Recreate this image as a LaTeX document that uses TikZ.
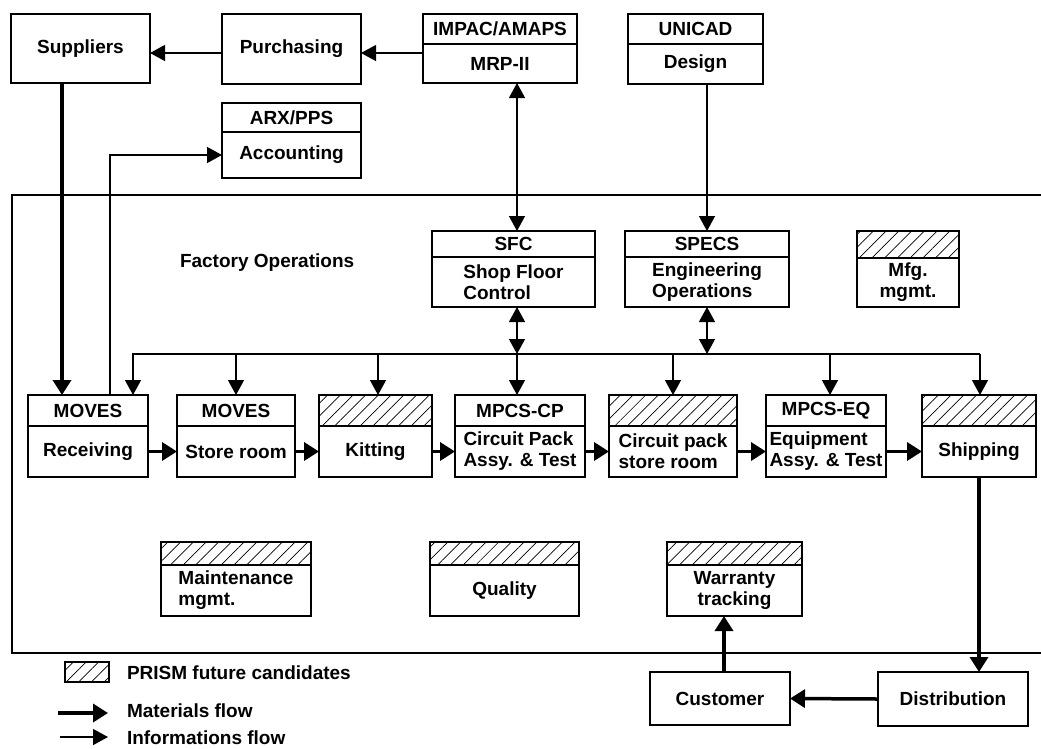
\documentclass[tikz,border=0pt]{standalone}
\usepackage{fontspec}
\setmainfont{Liberation Sans}
\usetikzlibrary{arrows.meta,patterns.meta}

\tikzset{
  every node/.style={font=\fontsize{19}{21}\selectfont\bfseries, inner sep=0pt, outer sep=0pt},
  sz/.style 2 args={minimum width=#1pt, minimum height=#2pt},
  bx/.style={draw, line width=1.8pt},
  hatch/.style={bx, pattern={Lines[angle=45,distance=9pt,line width=0.7pt]}},
  tipA/.tip={Triangle[length=15pt,width=16pt]},
  info/.style={line width=1.3pt, -tipA},
  infob/.style={line width=1.3pt, tipA-tipA},
  matl/.style={line width=3.5pt, -{Triangle[length=15pt,width=18pt]}},
  frame/.style={line width=1.6pt},
}

\begin{document}
\begin{tikzpicture}[x=1pt,y=-1pt]
\useasboundingbox (0,0) rectangle (1041,748);

% factory operations frame (open to the right)
\draw[frame] (1041,195) -- (12,195) -- (12,653) -- (1041,653);
\node[anchor=west] (fo) at (180,263) {Factory Operations};

% top row
\node[bx, sz={139}{69}] (sup) at (80.5,48.5) {Suppliers};
\node[bx, sz={139}{70}] (pur) at (291.5,49) {Purchasing};
\node[bx, sz={154}{30}] (mrph) at (500,29) {IMPAC/AMAPS};
\node[bx, sz={154}{39}] (mrpb) at (500,63.5) {MRP-II};
\node[bx, sz={135}{30}] (cadh) at (695.5,29) {UNICAD};
\node[bx, sz={135}{40}] (cadb) at (695.5,64) {Design};
\node[bx, sz={139}{29}] (acch) at (291.5,117.5) {ARX/PPS};
\node[bx, sz={139}{46}] (accb) at (291.5,155) {Accounting};

% control systems
\node[bx, sz={163}{26}] (sfch) at (513.5,244) {SFC};
\node[bx, sz={163}{50}, align=left] (sfcb) at (513.5,282) {Shop Floor\\Control};
\node[bx, sz={164}{26}] (spch) at (707,244) {SPECS};
\node[bx, sz={164}{50}, align=left] (spcb) at (707,282) {Engineering\\Operations};
\node[hatch, sz={102}{27}] (mfgh) at (908,244.5) {};
\node[bx, sz={102}{49}, align=center] (mfgb) at (908,282.5) {Mfg.\\mgmt.};

% production line
\node[bx, sz={120}{31}] (rcvh) at (88,410.5) {MOVES};
\node[bx, sz={120}{51}] (rcvb) at (88,451.5) {Receiving};
\node[bx, sz={118}{31}] (strh) at (236,410.5) {MOVES};
\node[bx, sz={118}{51}] (strb) at (236,451.5) {Store room};
\node[hatch, sz={113}{31}] (kith) at (375.5,410.5) {};
\node[bx, sz={113}{51}] (kitb) at (375.5,451.5) {Kitting};
\node[bx, sz={130}{31}] (mcph) at (520,410.5) {MPCS-CP};
\node[bx, sz={130}{51}, align=left] (mcpb) at (520,451.5) {Circuit Pack\\Assy. \& Test};
\node[hatch, sz={128}{31}] (cpsh) at (673,410.5) {};
\node[bx, sz={128}{51}, align=left] (cpsb) at (673,451.5) {Circuit pack\\store room};
\node[bx, sz={120}{31}] (meqh) at (826,410.5) {MPCS-EQ};
\node[bx, sz={120}{51}, align=left] (meqb) at (826,451.5) {Equipment\\Assy. \& Test};
\node[hatch, sz={114}{31}] (shph) at (979,410.5) {};
\node[bx, sz={114}{51}] (shpb) at (979,451.5) {Shipping};

% support functions
\node[hatch, sz={150}{23}] (mnth) at (236,553.5) {};
\node[bx, sz={150}{51}, align=left] (mntb) at (236,590.5) {Maintenance\\mgmt.};
\node[hatch, sz={149}{23}] (quah) at (504.5,553.5) {};
\node[bx, sz={149}{51}] (quab) at (504.5,590.5) {Quality};
\node[hatch, sz={135}{23}] (warh) at (734.5,553.5) {};
\node[bx, sz={135}{51}, align=center] (warb) at (734.5,590.5) {Warranty\\tracking};

% outside the factory
\node[bx, sz={140}{53}] (cus) at (720,698.5) {Customer};
\node[bx, sz={150}{54}] (dis) at (953,699) {Distribution};

% information flows
\coordinate (pa) at ([yshift=-4pt]pur.east);
\draw[info] (mrpb.west |- pa) -- (pa);
\draw[info] (pur.west |- pa) -- (sup.east |- pa);
\coordinate (sfcx) at ([xshift=3.5pt]sfcb.south);
\draw[infob] (mrpb.south -| sfcx) -- (sfch.north -| sfcx);
\draw[info] (cadb.south -| spch.north) -- (spch.north);

\coordinate (busL) at (133,354);
\coordinate (busR) at (980,354);
\draw[info] (busR) -- (busL) -- (busL |- rcvh.north);
\draw[info] (busR) -- (busR |- shph.north);
\draw[infob] (sfcx) -- (sfcx |- busL);
\draw[infob] (spcb.south) -- (spcb.south |- busL);
\draw[info] (busL -| strh.north) -- (strh.north);
\coordinate (kitx) at ([xshift=2.5pt]kith.north);
\draw[info] (busL -| kitx) -- (kitx);
\draw[info] (sfcx |- busL) -- (sfcx |- mcph.north);
\draw[info] (busL -| cpsh.north) -- (cpsh.north);
\coordinate (meqx) at ([xshift=4pt]meqh.north);
\draw[info] (busL -| meqx) -- (meqx);

\coordinate (acx) at ([xshift=22pt]rcvh.north);
\draw[info] (acx) |- (accb.west);

% materials flows
\coordinate (supx) at ([xshift=-18.5pt]sup.south);
\draw[matl] (supx) -- (supx |- rcvh.north);
\draw[matl] (rcvb.east) -- (strb.west);
\draw[matl] (strb.east) -- (kitb.west);
\draw[matl] (kitb.east) -- (mcpb.west);
\draw[matl] (mcpb.east) -- (cpsb.west);
\draw[matl] (cpsb.east) -- (meqb.west);
\draw[matl] (meqb.east) -- (shpb.west);
\draw[matl] (shpb.south) -- (shpb.south |- dis.north);
\draw[matl] (dis.west) -- (cus.east);
\coordinate (cusx) at ([xshift=4pt]cus.north);
\draw[matl] (cusx) -- (cusx |- warb.south);

% legend
\node[hatch, sz={44}{20}] (lgh) at (87,672) {};
\node[anchor=west] (lght) at (127,673) {PRISM future candidates};
\coordinate (lm1) at (58,713);
\coordinate (lm2) at (108,713);
\draw[matl] (lm1) -- (lm2);
\node[anchor=west] (lmt) at (127,711) {Materials flow};
\coordinate (li1) at (60,737);
\coordinate (li2) at (108,737);
\draw[info] (li1) -- (li2);
\node[anchor=west] (lit) at (127,738) {Informations flow};
\end{tikzpicture}
\end{document}
